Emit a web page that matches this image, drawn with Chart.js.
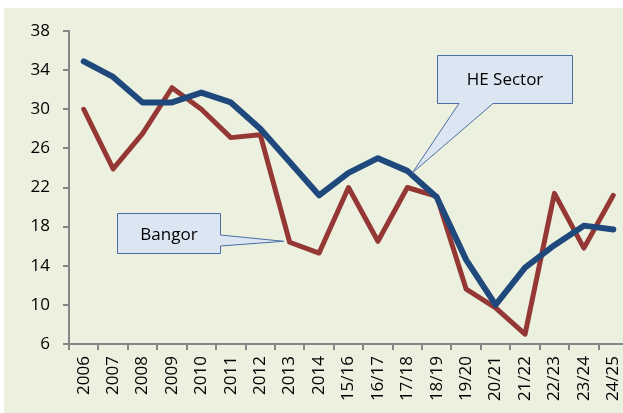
<!DOCTYPE html>
<html>
<head>
<meta charset="utf-8">
<script src="https://cdn.jsdelivr.net/npm/chart.js@4.4.1/dist/chart.umd.min.js"></script>
<style>
  html, body { margin: 0; padding: 0; background: #fff; overflow: hidden; }
  #wrap { position: absolute; left: 0; top: 0; width: 640px; height: 413px; }
</style>
</head>
<body>
<div id="wrap"><canvas id="rateChart" width="640" height="413"></canvas></div>
<script>
const categories = ['2006', '2007', '2008', '2009', '2010', '2011', '2012', '2013', '2014',
  '15/16', '16/17', '17/18', '18/19', '19/20', '20/21', '21/22', '22/23', '23/24', '24/25'];
const heSector = [34.9, 33.3, 30.7, 30.7, 31.7, 30.7, 28.0, 24.6, 21.2, 23.5, 25.0, 23.7, 21.0, 14.6, 10.0, 13.8, 16.1, 18.1, 17.7];
const bangor = [30.0, 23.9, 27.5, 32.2, 30.0, 27.1, 27.4, 16.4, 15.3, 22.0, 16.5, 22.0, 21.1, 11.6, 9.7, 7.0, 21.4, 15.8, 21.2];
const yMin = 6, yMax = 38, yStep = 4;

const FONT = { family: '"Open Sans", sans-serif', size: 17 };
const AXIS = '#868686';

// page background + callout boxes
const callouts = {
  id: 'callouts',
  beforeDraw(chart) {
    const c = chart.ctx;
    c.save();
    c.fillStyle = '#EBF1DE';
    c.fillRect(4, 8, chart.width, chart.height);
    c.restore();
  },
  afterDatasetsDraw(chart) {
    const c = chart.ctx;
    const x = chart.scales.x, y = chart.scales.y;
    c.save();
    c.fillStyle = '#DCE6F2';
    c.strokeStyle = '#4A6EA3';
    c.lineWidth = 1;

    // HE Sector, pointing at 17/18
    let tx = x.getPixelForValue(11) + 5, ty = y.getPixelForValue(heSector[11]) + 2;
    c.beginPath();
    c.moveTo(437.5, 55.5); c.lineTo(572.5, 55.5); c.lineTo(572.5, 103.5);
    c.lineTo(493, 103.5); c.lineTo(tx, ty); c.lineTo(459, 103.5);
    c.lineTo(437.5, 103.5); c.closePath();
    c.fill(); c.stroke();

    // Bangor, pointing at 2013
    tx = x.getPixelForValue(7) - 6; ty = y.getPixelForValue(bangor[7]) - 1;
    c.beginPath();
    c.moveTo(117.5, 213.5); c.lineTo(220.5, 213.5); c.lineTo(220.5, 235);
    c.lineTo(tx, ty); c.lineTo(220.5, 246); c.lineTo(220.5, 253.5);
    c.lineTo(117.5, 253.5); c.closePath();
    c.fill(); c.stroke();

    c.fillStyle = '#000';
    c.font = '17px "Open Sans", sans-serif';
    c.textAlign = 'center';
    c.textBaseline = 'middle';
    c.fillText('HE Sector', 505, 80);
    c.fillText('Bangor', 169, 235);
    c.restore();
  }
};

const ctx = document.getElementById('rateChart').getContext('2d');
const rateChart = new Chart(ctx, {
  type: 'line',
  data: {
    labels: categories,
    datasets: [{
      label: 'HE Sector',
      data: heSector,
      borderColor: '#1F497D',
      borderWidth: 6,
      order: 0
    }, {
      label: 'Bangor',
      data: bangor,
      borderColor: '#953735',
      borderWidth: 5,
      order: 1
    }]
  },
  options: {
    responsive: false,
    animation: false,
    elements: {
      point: { radius: 0 },
      line: { tension: 0, borderJoinStyle: 'round', borderCapStyle: 'round', fill: false }
    },
    layout: { padding: { top: 31, right: 12, left: 0, bottom: 0 } },
    plugins: {
      legend: { display: false },
      tooltip: { enabled: false }
    },
    scales: {
      x: {
        offset: true,
        grid: { offset: true, drawOnChartArea: false, tickLength: 6, color: AXIS, lineWidth: 2 },
        border: { color: AXIS, width: 2 },
        ticks: { minRotation: 90, maxRotation: 90, autoSkip: false, padding: 6, color: '#000', font: FONT },
        afterFit(scale) { scale.height = 69; }
      },
      y: {
        min: yMin,
        max: yMax,
        grid: { drawOnChartArea: false, tickLength: 6, color: AXIS, lineWidth: 2 },
        border: { color: AXIS, width: 2 },
        ticks: { stepSize: yStep, padding: 13, color: '#000', font: FONT },
        afterFit(scale) { scale.width = 69; }
      }
    }
  },
  plugins: [callouts]
});
</script>
</body>
</html>
